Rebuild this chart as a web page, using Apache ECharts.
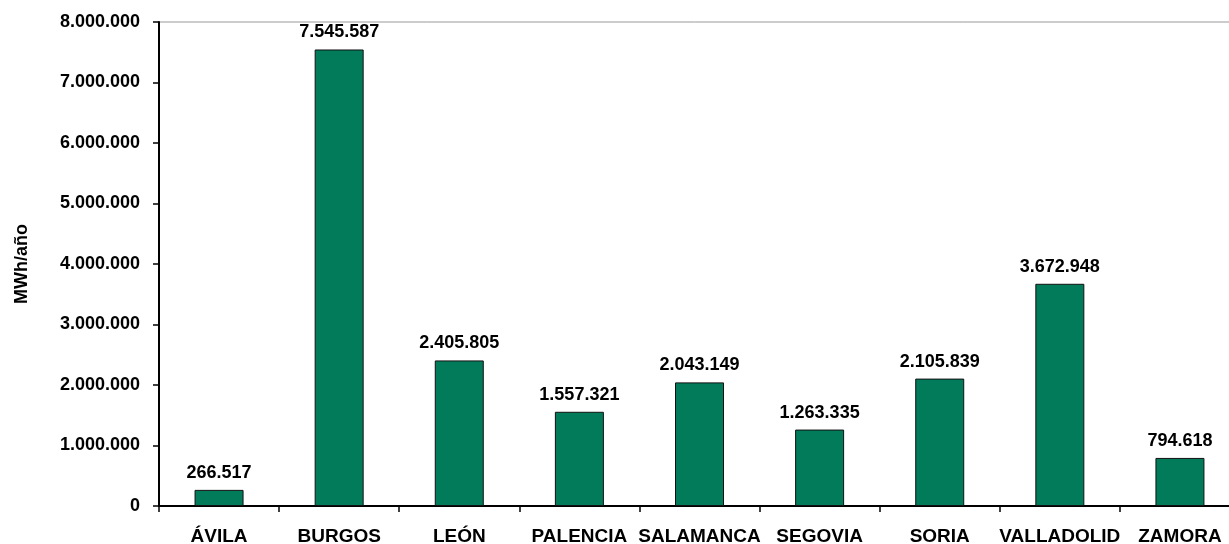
<!DOCTYPE html>
<html>
<head>
<meta charset="utf-8">
<script src="https://cdn.jsdelivr.net/npm/echarts@6/dist/echarts.min.js"></script>
<style>html,body{margin:0;padding:0;background:#fff}#c{width:1229px;height:544px}</style>
</head>
<body>
<div id="c"></div>
<script>
const categories = ['ÁVILA','BURGOS','LEÓN','PALENCIA','SALAMANCA','SEGOVIA','SORIA','VALLADOLID','ZAMORA'];
const values = [266517, 7545587, 2405805, 1557321, 2043149, 1263335, 2105839, 3672948, 794618];
const yTicks = [0, 1000000, 2000000, 3000000, 4000000, 5000000, 6000000, 7000000, 8000000];
const yName = 'MWh/año';

function fmt(v){ return String(v).replace(/\B(?=(\d{3})+(?!\d))/g, '.'); }
const font = '"Liberation Sans", Arial, sans-serif';
const chart = echarts.init(document.getElementById('c'), null, {renderer:'canvas'});
chart.setOption({
  animation:false,
  backgroundColor:'#fff',
  grid:{left:159, top:22, width:1081, bottom:38, show:true, borderColor:'#999', borderWidth:1,
    containLabel:false, outerBoundsMode:'none'},
  xAxis:{type:'category', data:categories,
    axisLine:{lineStyle:{color:'#000', width:2}},
    axisTick:{show:true, alignWithLabel:false, length:6, lineStyle:{color:'#000', width:1.5}},
    axisLabel:{color:'#000', fontWeight:'bold', fontSize:19, fontFamily:font, margin:21, interval:0, hideOverlap:false}},
  yAxis:{type:'value', min:yTicks[0], max:yTicks[yTicks.length-1], interval:1000000,
    name:yName, nameLocation:'middle', nameGap:128, nameRotate:90,
    nameTextStyle:{color:'#000', fontWeight:'bold', fontSize:18, fontFamily:font},
    axisLine:{show:true, lineStyle:{color:'#000', width:2}},
    axisTick:{show:true, length:6, lineStyle:{color:'#000', width:1.5}},
    splitLine:{show:false},
    axisLabel:{color:'#000', fontWeight:'bold', fontSize:18, fontFamily:font, margin:19, formatter:fmt}},
  series:[{type:'bar', data:values, barWidth:49,
    itemStyle:{color:'#027B5B', borderColor:'#111', borderWidth:1},
    label:{show:true, position:'top', distance:8, color:'#000', fontWeight:'bold', fontSize:18, fontFamily:font,
      formatter:p=>fmt(p.value)}}]
});
</script>
</body>
</html>
